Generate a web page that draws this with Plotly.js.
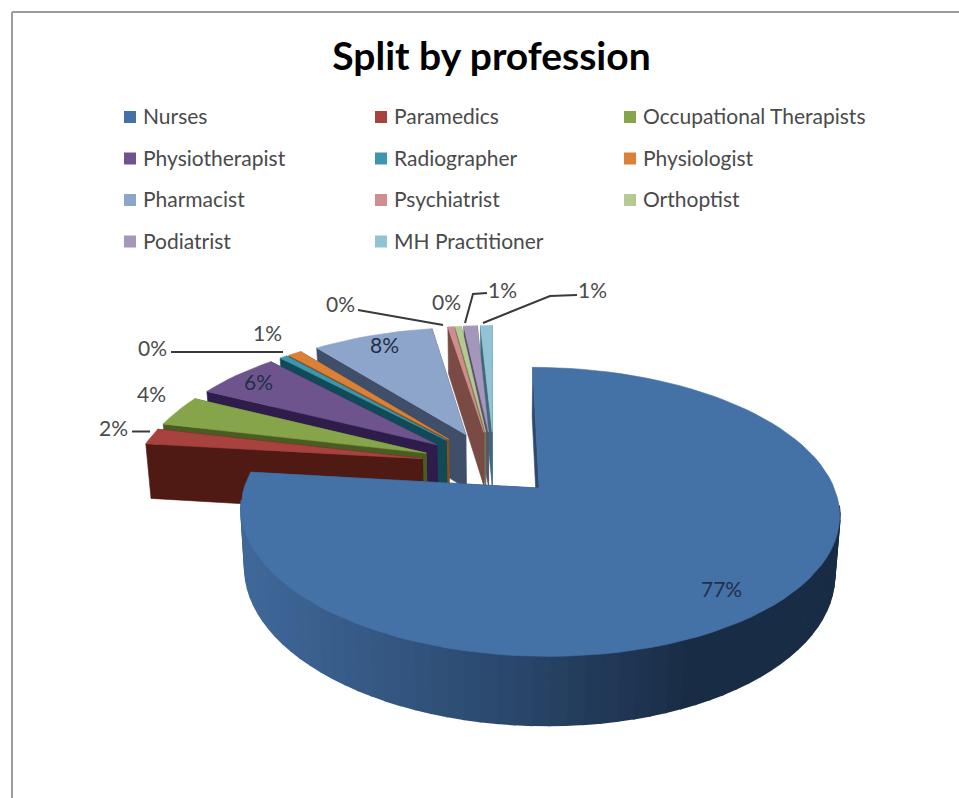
<!DOCTYPE html>
<html><head><meta charset="utf-8">
<script src="https://cdn.plot.ly/plotly-3.0.1.min.js"></script>
<style>html,body{margin:0;padding:0;background:#fff}#c{width:959px;height:798px}</style>
</head><body><div id="c"></div>
<script>
var categories=["Nurses","Paramedics","Occupational Therapists","Physiotherapist","Radiographer","Physiologist","Pharmacist","Psychiatrist","Orthoptist","Podiatrist","MH Practitioner"];
var shares=[77,1.9,3.7,5.6,0.5,0.9,8.1,0.4,0.4,0.9,0.8];
var percentLabels=["77%","2%","4%","6%","0%","1%","8%","0%","0%","1%","1%"];
var topColors=["#4471A6","#A8423F","#86A44A","#6E548D","#3D96AE","#DA8137","#8EA5CB","#CE8E8D","#B5CA92","#A597BA","#92C3D5"];
var wallColors=["#2C4A70","#4F1A14","#4A5C22","#2E1D4A","#0F4A56","#8A4F1A","#3F4F6A","#7A4A44","#6B7A50","#5B5070","#3C6A7A"];

// projection of the exploded pie (perspective ellipse in axis units = page pixels)
var CX=494,CY=464.6,AX=287,BY=133,K=0.16,PULL_FIRST=0.23,PULL_REST=0.255,DEPTH=56,SHRINK=0.985;
function proj(u,v,drop){var w=1+K*v,x=AX*u/w;return [CX+x*(drop?SHRINK:1),CY-BY*v/w+(drop?DEPTH/w:0)];}
var total=shares.reduce(function(a,b){return a+b;},0);
var traces=[];
function poly(pts,color,lw){
  traces.push({type:"scatter",mode:"lines",x:pts.map(function(p){return p[0];}),y:pts.map(function(p){return p[1];}),
    fill:"toself",fillcolor:color,line:{color:color,width:lw||0.6},hoverinfo:"skip",showlegend:false});
}
function mix(a,b,t){var h=function(c,i){return parseInt(c.substr(i,2),16);};
  return "rgb("+[1,3,5].map(function(i){return Math.round(h(a,i)+(h(b,i)-h(a,i))*t);}).join(",")+")";}
var slices=[],ang=0;
shares.forEach(function(s,i){var d=s/total*2*Math.PI;slices.push({i:i,a0:ang,a1:ang+d});ang+=d;});
function slicePoint(sl,a,r){var m=(sl.a0+sl.a1)/2,pull=sl.i===0?PULL_FIRST:PULL_REST;
  return [pull*Math.sin(m)+r*Math.sin(a),pull*Math.cos(m)+r*Math.cos(a)];}
function drawSlice(sl){
  var i=sl.i,n=Math.max(4,Math.ceil((sl.a1-sl.a0)/0.05));
  var apex=slicePoint(sl,0,0),arc=[],angles=[];
  for(var j=0;j<=n;j++){var a=sl.a0+(sl.a1-sl.a0)*j/n;angles.push(a);arc.push(slicePoint(sl,a,1));}
  function wall(p,q,color,lw){poly([proj(p[0],p[1]),proj(q[0],q[1]),proj(q[0],q[1],true),proj(p[0],p[1],true),proj(p[0],p[1])],color,lw);}
  wall(apex,arc[n],wallColors[i]);
  wall(apex,arc[0],wallColors[i]);
  for(var k=0;k<n;k++){
    // only the part of the rim that faces the viewer
    if(Math.cos((angles[k]+angles[k+1])/2)>-0.1) continue;
    var p=proj(arc[k][0],arc[k][1]);
    var c=wallColors[i];
    if(i===0){var t=(p[0]-250)/(700-250);t=Math.max(0,Math.min(1,t));
      c=t<0.55?mix("#3F6899","#2C4A70",t/0.55):mix("#2C4A70","#192C45",(t-0.55)/0.45);}
    wall(arc[k],arc[k+1],c,i===0?2:0.6);
  }
  var face=[proj(apex[0],apex[1])].concat(arc.map(function(q){return proj(q[0],q[1]);}));
  face.push(face[0]);
  poly(face,topColors[i]);
}
// painter's order: back slices first, the big slice last
[10,9,8,7,6,5,4,3,2,1,0].forEach(function(i){drawSlice(slices[i]);});

// legend (3 columns, 4 rows)
var LEG_X=[130,381,630],LEG_Y=[119,160.5,202,243.5],LEG_GAP=13;
traces.push({type:"scatter",mode:"markers",hoverinfo:"skip",showlegend:false,
  x:categories.map(function(c,i){return LEG_X[i%3];}),y:categories.map(function(c,i){return LEG_Y[Math.floor(i/3)]-2;}),
  marker:{symbol:"square",size:12,color:topColors}});
traces.push({type:"scatter",mode:"text",hoverinfo:"skip",showlegend:false,cliponaxis:false,
  x:categories.map(function(c,i){return LEG_X[i%3]+LEG_GAP;}),y:categories.map(function(c,i){return LEG_Y[Math.floor(i/3)];}),
  text:categories,textposition:"middle right",textfont:{family:"Lato, Carlito, sans-serif",size:21,color:"#4a4a4a"}});

// leader lines
var leaders=[[[132,431.5],[150,431.5]],[[171,352],[283,352]],[[358,310],[443,325]],[[487,293],[473,294],[465,323]],[[577,295],[550,296],[483,323]]];
leaders.forEach(function(l){traces.push({type:"scatter",mode:"lines",x:l.map(function(p){return p[0];}),y:l.map(function(p){return p[1];}),
  line:{color:"#3a3a3a",width:2},hoverinfo:"skip",showlegend:false});});

var LABEL_POS=[[721,588],[113,427],[151,393],[258,381],[152,347],[267,332],[384,344],[340,303],[446,301],[502,289],[592,289]];
var LABEL_DARK=[true,false,false,true,false,false,true,false,false,false,false];
var annotations=percentLabels.map(function(t,i){return {x:LABEL_POS[i][0],y:LABEL_POS[i][1],xref:"x",yref:"y",text:t,showarrow:false,
  font:{family:"Lato, Carlito, sans-serif",size:21,color:LABEL_DARK[i]?"#1f2f4a":"#4a4a4a"}};});

Plotly.newPlot("c",traces,{
  width:959,height:798,margin:{l:0,r:0,t:0,b:0},paper_bgcolor:"#fff",plot_bgcolor:"#fff",showlegend:false,
  title:{text:"<b>Split by profession</b>",x:491.5/959,xanchor:"center",y:1-56/798,yanchor:"middle",font:{family:"Lato, Carlito, sans-serif",size:39,color:"#000"}},
  xaxis:{range:[0,959],visible:false,fixedrange:true},
  yaxis:{range:[798,0],visible:false,fixedrange:true},
  annotations:annotations,
  shapes:[{type:"line",xref:"x",yref:"y",x0:12,x1:12,y0:12,y1:798,line:{color:"#9c9c9c",width:2}},
          {type:"line",xref:"x",yref:"y",x0:12,x1:959,y0:12,y1:12,line:{color:"#9c9c9c",width:2}}]
},{displayModeBar:false,staticPlot:true});
</script></body></html>
